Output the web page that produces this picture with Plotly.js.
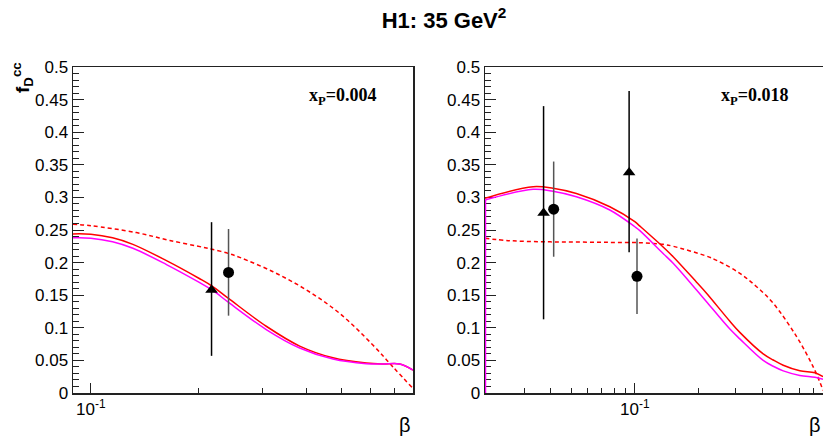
<!DOCTYPE html>
<html>
<head>
<meta charset="utf-8">
<script src="https://cdn.plot.ly/plotly-3.0.1.min.js"></script>
<style>html,body{margin:0;padding:0;background:#fff;}#chart{width:823px;height:438px;}</style>
</head>
<body>
<div id="chart"></div>
<script>
// ---------- data ----------
// Left panel (x_P = 0.004)
const leftBeta = [0.0892, 0.100, 0.115, 0.131, 0.1625, 0.2, 0.2177, 0.242, 0.309, 0.382, 0.473, 0.586, 0.65, 0.726, 0.7905];
const leftRed  = [0.244, 0.2435, 0.238, 0.228, 0.203, 0.176, 0.164, 0.145, 0.102, 0.072, 0.054, 0.046, 0.0445, 0.0445, 0.035];
const leftMag  = [0.238, 0.2375, 0.232, 0.222, 0.197, 0.170, 0.158, 0.139, 0.097, 0.069, 0.052, 0.045, 0.0445, 0.0445, 0.035];
const leftDashBeta = [0.0892, 0.1, 0.134, 0.166, 0.2055, 0.2177, 0.242, 0.26, 0.322, 0.399, 0.494, 0.611, 0.695, 0.7905];
const leftDash     = [0.259, 0.2566, 0.246, 0.234, 0.2235, 0.2205, 0.214, 0.208, 0.186, 0.158, 0.122, 0.0736, 0.040, 0.007];
const leftTriBeta = [0.217], leftTriY = [0.158], leftTriHi = [0.262], leftTriLo = [0.057];
const leftCirBeta = [0.242], leftCirY = [0.185], leftCirHi = [0.2515], leftCirLo = [0.1186];

// Right panel (x_P = 0.018)
const rightBeta = [0.01963, 0.0331, 0.0411, 0.053, 0.0762, 0.1, 0.1056, 0.136, 0.1517, 0.1956, 0.218, 0.281, 0.313, 0.4036, 0.45, 0.5018, 0.601, 0.708, 0.773];
const rightRed  = [0.2986, 0.3164, 0.314, 0.306, 0.2857, 0.2627, 0.256, 0.224, 0.209, 0.17, 0.153, 0.11, 0.093, 0.06, 0.0506, 0.0426, 0.034, 0.031, 0.025];
const rightMag  = [0.296, 0.3124, 0.3095, 0.301, 0.2807, 0.255, 0.249, 0.214, 0.199, 0.158, 0.14, 0.098, 0.083, 0.05, 0.041, 0.034, 0.027, 0.024, 0.021];
const rightMagStart = [0, 0.296];
const rightDashBeta = [0.01963, 0.0257, 0.0369, 0.053, 0.0762, 0.1056, 0.136, 0.1517, 0.218, 0.2432, 0.313, 0.3756, 0.45, 0.5804, 0.695, 0.762, 0.773];
const rightDash     = [0.2372, 0.2336, 0.232, 0.2315, 0.231, 0.2305, 0.228, 0.225, 0.21, 0.2035, 0.1836, 0.163, 0.1376, 0.0864, 0.040, 0.0097, 0.004];
const rightTriBeta = [0.0371, 0.094], rightTriY = [0.276, 0.338], rightTriHi = [0.44, 0.463], rightTriLo = [0.113, 0.216];
const rightCirBeta = [0.0414, 0.1024], rightCirY = [0.282, 0.179], rightCirHi = [0.355, 0.237], rightCirLo = [0.209, 0.121];

// axis ranges / ticks
const leftRange = [0.0892, 0.7905];
const rightRange = [0.01963, 0.773];
const majorBeta = [0.1];
const majorBetaText = ['10<sup>-1</sup>'];
const leftMinor = [0.2, 0.3, 0.4, 0.5, 0.6, 0.7];
const rightMinor = [0.03, 0.04, 0.05, 0.06, 0.07, 0.08, 0.09, 0.2, 0.3, 0.4, 0.5, 0.6, 0.7];

// ---------- figure ----------
const FONT = 'Liberation Sans, Arial, sans-serif';
const SERIF = 'Liberation Serif, Times New Roman, serif';
const RED = '#ff0000', MAG = '#ff00ff';

function curve(x, y, color, xa, ya, dash) {
  return {x: x, y: y, xaxis: xa, yaxis: ya, type: 'scatter', mode: 'lines', hoverinfo: 'skip',
          line: {color: color, width: 1.5, dash: dash || 'solid', shape: 'spline', smoothing: 1.0}};
}
function pts(x, y, hi, lo, symbol, barColor, xa, ya) {
  return {x: x, y: y, xaxis: xa, yaxis: ya, type: 'scatter', mode: 'markers', hoverinfo: 'skip',
          marker: {symbol: symbol, size: 11, color: '#000'},
          error_y: {type: 'data', symmetric: false,
                    array: hi.map((h, i) => h - y[i]), arrayminus: lo.map((l, i) => y[i] - l),
                    color: barColor, thickness: 1.5, width: 0}};
}

const traces = [
  curve(leftDashBeta, leftDash, RED, 'x', 'y', '4px,3px'),
  curve(leftBeta, leftRed, RED, 'x', 'y'),
  curve(leftBeta, leftMag, MAG, 'x', 'y'),
  pts(leftTriBeta, leftTriY, leftTriHi, leftTriLo, 'triangle-up', '#000', 'x', 'y'),
  pts(leftCirBeta, leftCirY, leftCirHi, leftCirLo, 'circle', '#555', 'x', 'y'),

  curve(rightDashBeta, rightDash, RED, 'x2', 'y2', '4px,3px'),
  curve(rightBeta, rightRed, RED, 'x2', 'y2'),
  curve(rightBeta, rightMag, MAG, 'x2', 'y2'),
  {x: [rightBeta[0], rightBeta[0]], y: rightMagStart, xaxis: 'x2', yaxis: 'y2', type: 'scatter', mode: 'lines',
   hoverinfo: 'skip', line: {color: MAG, width: 2.5}},
  pts(rightTriBeta, rightTriY, rightTriHi, rightTriLo, 'triangle-up', '#000', 'x2', 'y2'),
  pts(rightCirBeta, rightCirY, rightCirHi, rightCirLo, 'circle', '#555', 'x2', 'y2')
];

function xAxis(domain, range, minorVals, anchor) {
  return {type: 'log', domain: domain, range: range.map(Math.log10), anchor: anchor,
          tickmode: 'array', tickvals: majorBeta, ticktext: majorBetaText,
          ticks: 'inside', ticklen: 10, tickwidth: 1, tickcolor: '#222',
          showline: true, linecolor: '#222', linewidth: 1.5, mirror: true,
          showgrid: false, zeroline: false, fixedrange: true,
          tickfont: {family: FONT, size: 17, color: '#000'},
          minor: {tickmode: 'array', tickvals: minorVals, ticks: 'inside', ticklen: 5, tickwidth: 1,
                  tickcolor: '#222', showgrid: false}};
}
function yAxis(anchor, mirror, layer) {
  return {range: [0, 0.5], tick0: 0, dtick: 0.05, anchor: anchor,
          ticks: 'inside', ticklen: 11, tickwidth: 1, tickcolor: '#222',
          showline: true, linecolor: '#222', linewidth: 1.5, mirror: mirror, layer: layer,
          showgrid: false, zeroline: false, fixedrange: true,
          tickfont: {family: FONT, size: 17, color: '#000'},
          minor: {dtick: 0.01, ticks: 'inside', ticklen: 6, tickwidth: 1, tickcolor: '#222', showgrid: false}};
}

const W = 750, L = 73;
const px = p => (p - L) / W;            // pixel x -> paper x
const py = p => (393 - p) / 326;        // pixel y -> paper y

const layout = {
  width: 823, height: 438,
  margin: {l: 73, r: 0, t: 67, b: 45, pad: 0},
  paper_bgcolor: '#fff', plot_bgcolor: '#fff',
  showlegend: false,
  font: {family: FONT, size: 17, color: '#000'},
  title: {text: '<b>H1: 35 GeV<sup>2</sup></b>', x: 444 / 823, xref: 'container', xanchor: 'center',
          y: 1 - 20 / 438, yref: 'container', yanchor: 'middle',
          font: {family: FONT, size: 22, color: '#000'}},
  xaxis: xAxis([0, px(413)], leftRange, leftMinor, 'y'),
  yaxis: yAxis('x', true, 'above traces'),
  xaxis2: xAxis([px(485), 1], rightRange, rightMinor, 'y2'),
  yaxis2: yAxis('x2', false, 'below traces'),
  annotations: [
    {text: '<b>f<sub>D</sub><sup>cc</sup></b>', textangle: -90, xref: 'paper', yref: 'paper',
     x: px(22), y: py(77), xanchor: 'center', yanchor: 'middle', showarrow: false,
     font: {family: FONT, size: 19, color: '#000'}},
    {text: '<b>x<sub>P</sub>=0.004</b>', xref: 'paper', yref: 'paper', x: px(307), y: py(96),
     xanchor: 'left', yanchor: 'middle', showarrow: false, font: {family: SERIF, size: 18, color: '#000'}},
    {text: '<b>x<sub>P</sub>=0.018</b>', xref: 'paper', yref: 'paper', x: px(719), y: py(96),
     xanchor: 'left', yanchor: 'middle', showarrow: false, font: {family: SERIF, size: 18, color: '#000'}},
    {text: 'β', xref: 'paper', yref: 'paper', x: px(413), y: py(425), xanchor: 'right', yanchor: 'middle',
     showarrow: false, font: {family: FONT, size: 20, color: '#000'}},
    {text: 'β', xref: 'paper', yref: 'paper', x: px(823), y: py(425), xanchor: 'right', yanchor: 'middle',
     showarrow: false, font: {family: FONT, size: 20, color: '#000'}}
  ]
};

Plotly.newPlot('chart', traces, layout, {staticPlot: true, displayModeBar: false});
</script>
</body>
</html>
